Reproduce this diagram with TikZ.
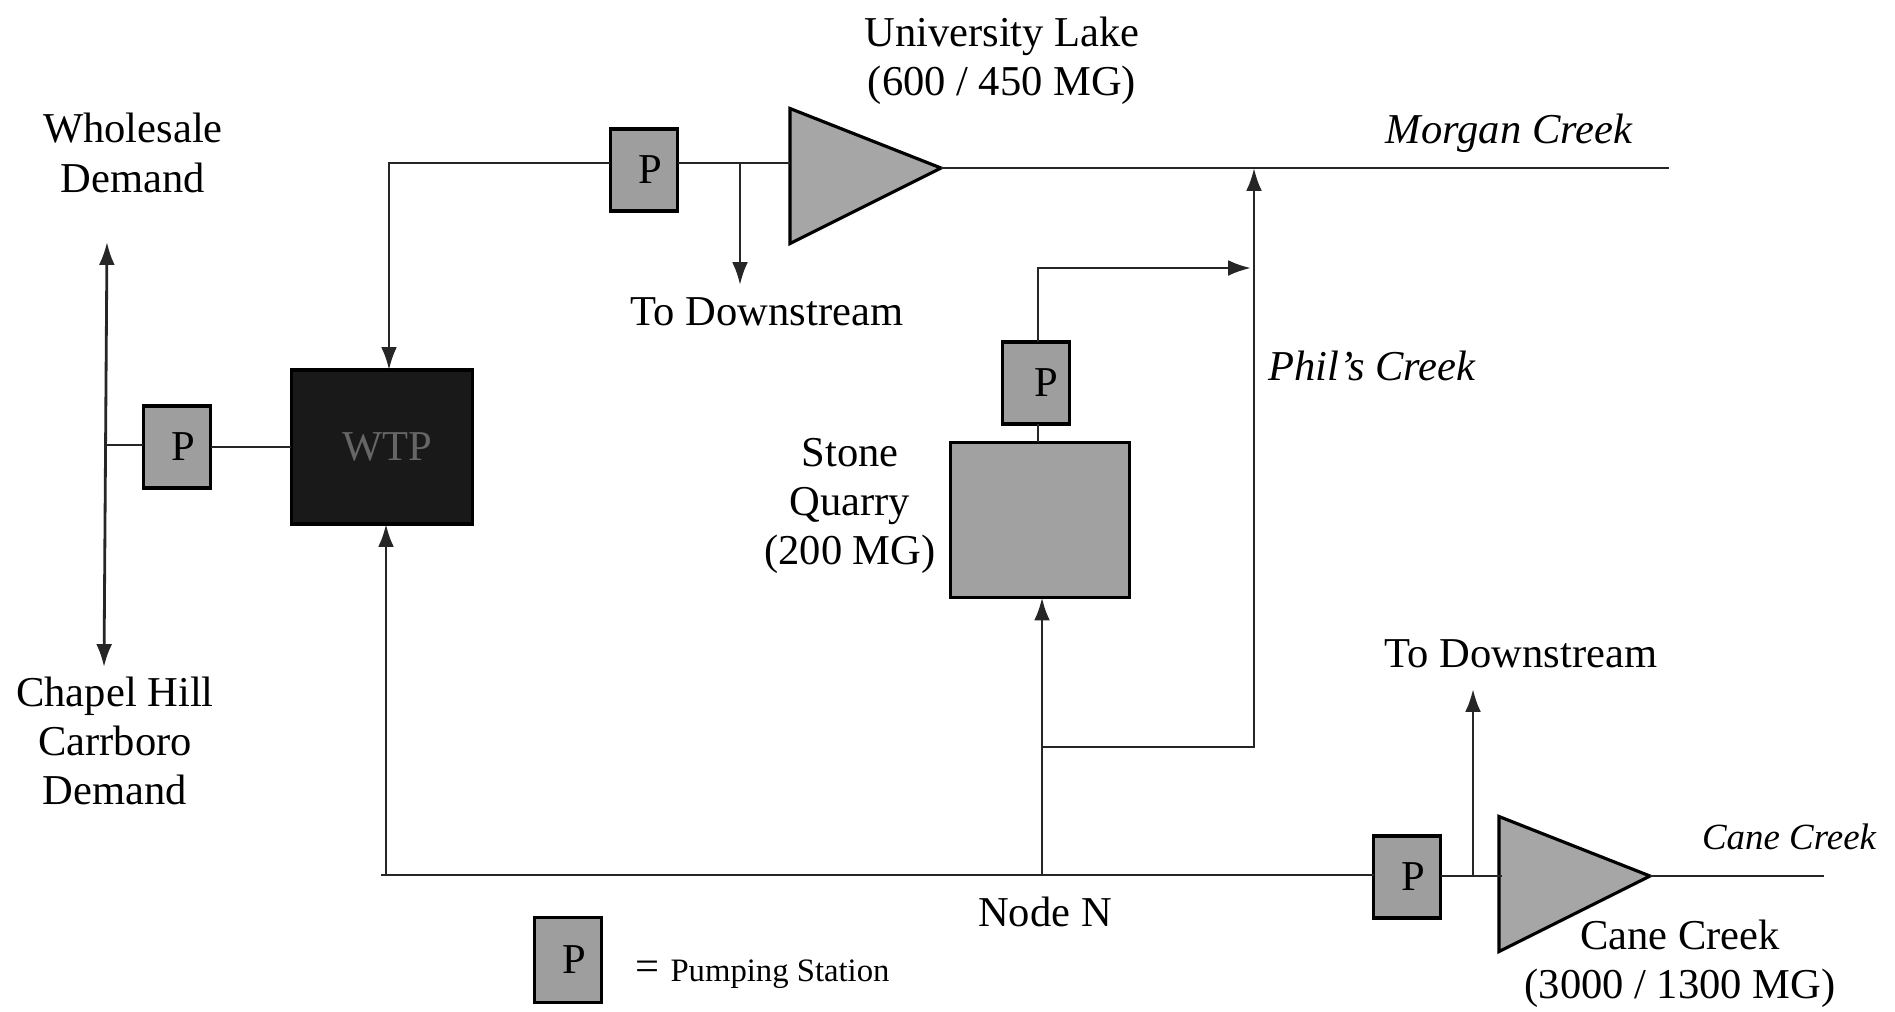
\documentclass[tikz,border=0pt]{standalone}
\usepackage{fontspec}
\setmainfont{Liberation Serif}
\usetikzlibrary{shapes.geometric,arrows.meta}
\tikzstyle{pump}=[rectangle, draw, fill=black!38, line width=0.9pt, minimum width=0.67cm, minimum height=0.82cm, inner sep=0pt, outer sep=0pt, font=\fontsize{12.1}{14}\selectfont, execute at begin node={\hspace{0.13cm}}]
\tikzstyle{tank}=[rectangle, draw, fill=black!37, line width=0.9pt, inner sep=0pt, outer sep=0pt]
\tikzstyle{lake}=[isosceles triangle, isosceles triangle stretches, yslant=0.053, draw, fill=black!35, line width=0.9pt, minimum width=1.35cm, minimum height=1.51cm, inner sep=0pt, outer sep=0pt, anchor=apex]
\tikzstyle{labelsty}=[align=center, inner sep=0pt, font=\fontsize{12.1}{14}\selectfont]
\tikzstyle{creeksty}=[inner sep=0pt, font=\fontsize{12.1}{14}\selectfont\itshape]
\tikzstyle{edge}=[line width=0.8pt, black!85]
\tikzstyle{dedge}=[edge,-{Latex[length=6.5pt,width=4.5pt]}]

\begin{document}
\begin{tikzpicture}[x=0.01cm,y=-0.01cm]
	\useasboundingbox (0,0) rectangle (1895,1011);

	\node[pump] (pLeft) at (177,447) {P};
	\node[tank,fill=black!90,text=black!60,minimum width=1.81cm,minimum height=1.54cm,font=\fontsize{12.1}{14}\selectfont,execute at begin node={\hspace{0.1cm}}] (wtp) at (382,447) {WTP};
	\node[pump] (pLake) at (644,170) {P};
	\node[pump,execute at begin node={\hspace{0.08cm}}] (pStone) at (1036,383) {P};
	\node[tank,minimum width=1.79cm,minimum height=1.55cm] (quarry) at (1040,520) {};
	\node[pump] (pCane) at (1407,877) {P};
	\node[pump,minimum height=0.85cm] (pKey) at (568,960) {P};

	\node[lake] (lakeU) at (941,168) {};
	\node[lake] (lakeC) at (1650,876) {};

	\coordinate (demandTop) at (107,242);
	\coordinate (demandMid) at (106,445);
	\coordinate (demandBot) at (104,667);
	\coordinate (topCorner) at (389,163);
	\coordinate (lakeIn) at (790,163);
	\coordinate (downU) at (740,163);
	\coordinate (downUEnd) at (740,285);
	\coordinate (morganEnd) at (1669,168);
	\coordinate (stoneCorner) at (1038,268);
	\coordinate (stoneEnd) at (1251,268);
	\coordinate (philTop) at (1254,168);
	\coordinate (philBot) at (1254,747);
	\coordinate (nodeBranch) at (1042,747);
	\coordinate (nodeN) at (1042,875);
	\coordinate (bottomStart) at (381,875);
	\coordinate (bottomUp) at (386,875);
	\coordinate (caneIn) at (1502,876);
	\coordinate (downC) at (1473,876);
	\coordinate (downCEnd) at (1473,689);
	\coordinate (caneEnd) at (1824,876);

	\draw[{Latex[length=6.5pt,width=4.5pt]}-{Latex[length=6.5pt,width=4.5pt]},edge] (demandTop)--(demandBot);
	\draw[edge] (demandMid)--(demandMid-|pLeft.west);
	\draw[edge] (pLeft.east)--(wtp.west);
	\draw[dedge] (pLake.west|-topCorner)--(topCorner)--(topCorner|-wtp.north);
	\draw[edge] (pLake.east|-lakeIn)--(lakeIn);
	\draw[dedge] (downU)--(downUEnd);
	\draw[edge] (lakeU.apex)--(morganEnd);
	\draw[edge] (pStone.south-|stoneCorner)--(stoneCorner|-quarry.north);
	\draw[dedge] (pStone.north-|stoneCorner)--(stoneCorner)--(stoneEnd);
	\draw[dedge] (nodeBranch)--(philBot)--(philTop);
	\draw[dedge] (nodeN)--(nodeN|-quarry.south);
	\draw[edge] (bottomStart)--(bottomStart-|pCane.west);
	\draw[dedge] (bottomUp)--(bottomUp|-wtp.south);
	\draw[edge] (caneIn-|pCane.east)--(caneIn);
	\draw[dedge] (downC)--(downCEnd);
	\draw[edge] (lakeC.apex)--(caneEnd);

	\node[labelsty] (uniLabel) at (1002,61) {University Lake\\(600 / 450 MG)};
	\node[labelsty] (wholesaleLabel) at (133,153) {Wholesale\\Demand};
	\node[labelsty] (chapelLabel) at (115,741) {Chapel Hill\\Carrboro\\Demand};
	\node[labelsty] (downULabel) at (767,312) {To Downstream};
	\node[labelsty] (stoneLabel) at (850,506) {Stone\\Quarry\\(200 MG)};
	\node[labelsty] (downCLabel) at (1521,654) {To Downstream};
	\node[labelsty] (nodeLabel) at (1045,912) {Node N};
	\node[labelsty] (caneLabel) at (1680,964) {Cane Creek\\(3000 / 1300 MG)};
	\node[creeksty] (morganLabel) at (1509,133) {Morgan Creek};
	\node[creeksty] (philLabel) at (1372,366) {Phil's Creek};
	\node[creeksty,font=\fontsize{10.5}{12}\selectfont\itshape] (caneCreekLabel) at (1789,837) {Cane Creek};
	\node[inner sep=0pt,font=\fontsize{12.1}{14}\selectfont] (keyEq) at (647,971) {=};
	\node[inner sep=0pt,font=\fontsize{9.3}{11}\selectfont] (keyLabel) at (780,974) {Pumping Station};
\end{tikzpicture}
\end{document}
